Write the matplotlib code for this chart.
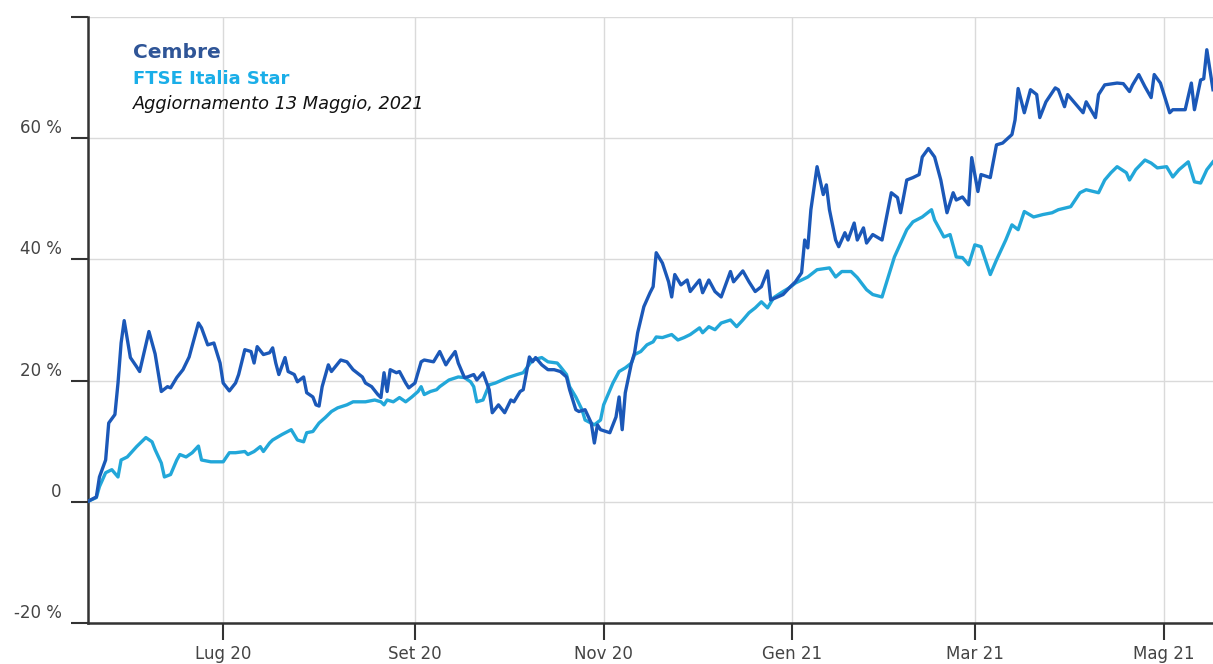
import pandas as pd
import matplotlib
matplotlib.use('Agg')
import matplotlib.pyplot as plt
import matplotlib.dates as mdates
import matplotlib.transforms as mtransforms
from matplotlib.ticker import FuncFormatter

# giorni dall'inizio (15 maggio 2020) e performance in %
start = pd.Timestamp('2020-05-15')

cembre_days = [
  3, 6, 7, 9, 10, 12, 13, 14, 15, 17,
  19, 20, 23, 25, 27, 29, 30, 32, 34, 36,
  39, 40, 42, 44, 46, 47, 49, 51, 52, 54,
  56, 57, 58, 60, 62, 63, 64, 65, 67, 68,
  70, 71, 73, 74, 76, 77, 78, 79, 81, 82,
  85, 87, 89, 92, 93, 95, 97, 98, 99, 100,
  101, 103, 104, 106, 107, 109, 111, 112, 115, 117,
  119, 120, 122, 123, 125, 126, 128, 129, 131, 133,
  134, 136, 138, 140, 141, 143, 144, 146, 147, 148,
  150, 152, 154, 156, 158, 159, 161, 162, 164, 166,
  167, 168, 169, 172, 174, 175, 176, 177, 179, 180,
  181, 183, 185, 186, 187, 189, 191, 192, 193, 195,
  197, 198, 201, 202, 204, 206, 208, 211, 212, 215,
  217, 219, 221, 223, 224, 228, 230, 232, 234, 235,
  236, 237, 239, 241, 242, 243, 245, 246, 248, 249,
  251, 252, 254, 255, 257, 260, 263, 265, 266, 268,
  270, 272, 273, 275, 277, 279, 281, 283, 284, 286,
  288, 289, 291, 292, 295, 297, 299, 302, 303, 304,
  306, 308, 310, 311, 313, 316, 317, 319, 320, 322,
  325, 326, 329, 330, 332, 336, 338, 340, 341, 343,
  345, 347, 348, 350, 353, 354, 358, 360, 361, 363,
  364, 365, 367]

cembre_pct = [
  0.0, 0.8, 4.1, 6.9, 13.0, 14.4, 19.6, 26.2, 29.9, 23.8,
  22.3, 21.5, 28.1, 24.4, 18.2, 19.0, 18.8, 20.5, 21.8, 23.9,
  29.5, 28.7, 25.9, 26.2, 22.9, 19.6, 18.3, 19.6, 21.0, 25.1,
  24.8, 22.9, 25.6, 24.3, 24.6, 25.4, 22.9, 21.0, 23.8, 21.5,
  21.0, 19.8, 20.6, 18.0, 17.3, 16.0, 15.8, 19.0, 22.6, 21.5,
  23.4, 23.1, 21.8, 20.6, 19.6, 19.0, 17.7, 17.2, 21.3, 18.2,
  21.8, 21.3, 21.5, 19.6, 18.8, 19.6, 23.1, 23.4, 23.1, 24.8,
  22.6, 23.4, 24.8, 22.9, 20.5, 20.6, 21.0, 20.1, 21.3, 18.5,
  14.7, 16.0, 14.7, 16.8, 16.5, 18.2, 18.5, 23.9, 23.1, 23.8,
  22.6, 21.8, 21.8, 21.5, 20.6, 18.5, 15.2, 14.9, 15.2, 13.0,
  9.7, 12.7, 11.9, 11.4, 14.0, 17.3, 11.9, 18.0, 22.9, 24.6,
  27.9, 32.2, 34.5, 35.5, 41.1, 39.4, 36.3, 33.8, 37.5, 35.8,
  36.6, 34.7, 36.6, 34.5, 36.6, 34.7, 33.8, 38.0, 36.3, 38.1,
  36.3, 34.7, 35.5, 38.1, 33.3, 34.2, 35.3, 36.3, 37.8, 43.2,
  41.9, 48.2, 55.3, 50.7, 52.3, 48.2, 43.2, 42.1, 44.4, 43.2,
  46.0, 43.2, 45.2, 42.7, 44.1, 43.2, 51.0, 50.2, 47.7, 53.1,
  53.5, 54.0, 56.9, 58.3, 56.9, 53.1, 47.7, 51.0, 49.8, 50.3,
  49.0, 56.8, 51.2, 54.0, 53.5, 58.9, 59.2, 60.6, 63.0, 68.2,
  64.2, 68.0, 67.2, 63.4, 66.0, 68.3, 68.0, 65.2, 67.2, 66.0,
  64.2, 66.0, 63.4, 67.2, 68.8, 69.1, 69.0, 67.7, 68.8, 70.5,
  68.5, 66.7, 70.5, 69.1, 64.2, 64.7, 64.7, 69.1, 64.7, 69.6,
  69.8, 74.6, 68.0]

ftse_days = [
  3, 6, 7, 9, 11, 13, 14, 16, 19, 22,
  24, 25, 27, 28, 30, 32, 33, 35, 37, 39,
  40, 43, 44, 47, 49, 51, 54, 55, 57, 59,
  60, 62, 63, 66, 69, 71, 73, 74, 76, 78,
  80, 82, 84, 87, 89, 92, 93, 96, 98, 99,
  100, 102, 104, 106, 108, 110, 111, 112, 114, 116,
  117, 120, 123, 125, 127, 128, 129, 131, 133, 135,
  139, 142, 144, 147, 150, 152, 155, 156, 158, 159,
  161, 163, 164, 167, 169, 170, 173, 175, 177, 179,
  180, 182, 184, 186, 187, 189, 192, 194, 196, 198,
  201, 202, 204, 206, 208, 211, 213, 215, 217, 219,
  221, 223, 225, 228, 230, 232, 236, 239, 243, 245,
  247, 250, 252, 255, 257, 260, 262, 264, 268, 270,
  273, 276, 277, 280, 282, 284, 286, 288, 290, 292,
  295, 297, 300, 302, 304, 306, 309, 312, 315, 317,
  321, 324, 326, 330, 332, 334, 336, 339, 340, 342,
  345, 347, 349, 352, 354, 356, 359, 361, 363, 365,
  367]

ftse_pct = [
  0.0, 0.7, 2.5, 4.8, 5.3, 4.1, 6.9, 7.4, 9.1, 10.6,
  9.9, 8.6, 6.4, 4.1, 4.5, 6.9, 7.8, 7.4, 8.1, 9.2,
  6.9, 6.6, 6.6, 6.6, 8.1, 8.1, 8.3, 7.8, 8.3, 9.1,
  8.3, 9.7, 10.2, 11.1, 11.9, 10.2, 9.9, 11.4, 11.6, 13.0,
  13.9, 14.9, 15.5, 16.0, 16.5, 16.5, 16.5, 16.8, 16.5, 16.0,
  16.8, 16.5, 17.2, 16.5, 17.3, 18.2, 19.0, 17.7, 18.2, 18.5,
  19.0, 20.1, 20.6, 20.5, 19.8, 19.0, 16.5, 16.8, 19.3, 19.6,
  20.5, 21.0, 21.3, 23.4, 23.8, 23.1, 22.9, 22.3, 21.0, 19.0,
  17.3, 15.2, 13.5, 12.7, 13.5, 16.0, 19.6, 21.5, 22.1, 22.9,
  24.3, 24.8, 25.9, 26.4, 27.2, 27.1, 27.6, 26.7, 27.1, 27.6,
  28.7, 27.9, 28.9, 28.4, 29.5, 30.0, 28.9, 30.0, 31.2, 32.0,
  33.0, 32.0, 33.7, 34.7, 35.3, 36.1, 37.1, 38.3, 38.6, 37.1,
  38.0, 38.0, 37.0, 35.0, 34.2, 33.8, 37.1, 40.4, 44.9, 46.2,
  47.0, 48.2, 46.5, 43.7, 44.1, 40.4, 40.3, 39.1, 42.4, 42.1,
  37.5, 39.9, 43.2, 45.7, 44.9, 47.9, 47.0, 47.4, 47.7, 48.2,
  48.7, 51.0, 51.5, 51.0, 53.1, 54.3, 55.3, 54.3, 53.1, 54.8,
  56.4, 55.9, 55.1, 55.3, 53.6, 54.8, 56.1, 52.8, 52.6, 54.8,
  56.1]

mesi = ['Gen', 'Feb', 'Mar', 'Apr', 'Mag', 'Giu', 'Lug', 'Ago', 'Set', 'Ott', 'Nov', 'Dic']
y_ticks = [-20, 0, 20, 40, 60, 80]

cembre_dates = start + pd.to_timedelta(cembre_days, unit='D')
ftse_dates = start + pd.to_timedelta(ftse_days, unit='D')

W, H = 1213, 664
fig = plt.figure(figsize=(W / 100, H / 100), dpi=100)
ax = fig.add_axes([88 / W, 41 / H, (W - 88) / W, 606 / H])

ax.plot(ftse_dates, ftse_pct, color='#22a7d9', lw=2.4, zorder=3)
ax.plot(cembre_dates, cembre_pct, color='#1b58b8', lw=2.4, zorder=4)

ax.set_xlim(start + pd.Timedelta(days=3.3), start + pd.Timedelta(days=367))
ax.set_ylim(-20, 80)
ax.set_yticks(y_ticks)

def ylab(v, pos):
  if v == 0:
    return '0'
  if v >= 80:
    return ''
  return '{:.0f} %'.format(v)

def xlab(v, pos):
  d = mdates.num2date(v)
  return mesi[d.month - 1] + ' ' + d.strftime('%y')

ax.yaxis.set_major_formatter(FuncFormatter(ylab))
ax.xaxis.set_major_locator(mdates.MonthLocator(bymonth=[1, 3, 5, 7, 9, 11]))
ax.xaxis.set_major_formatter(FuncFormatter(xlab))

ax.grid(True, color='#dadada', lw=1, zorder=0)
for s in ['top', 'right']:
  ax.spines[s].set_visible(False)
for s in ['left', 'bottom']:
  ax.spines[s].set_color('#333333')
  ax.spines[s].set_linewidth(1.8)

ax.tick_params(direction='out', length=12, width=1.5, color='#333333',
               labelsize=12, labelcolor='#444444')
ax.tick_params(axis='x', pad=4, labelsize=12)
ax.tick_params(axis='y', pad=7)

# etichette y spostate sopra la tacca
shift = mtransforms.ScaledTranslation(0, 0.12, fig.dpi_scale_trans)
for lbl in ax.get_yticklabels():
  lbl.set_transform(lbl.get_transform() + shift)

fig.text(133 / W, 1 - 52 / H, 'Cembre', fontsize=14.5, fontweight='bold',
         color='#2f5597', va='center')
fig.text(133 / W, 1 - 79 / H, 'FTSE Italia Star', fontsize=13, fontweight='bold',
         color='#1aaee8', va='center')
fig.text(133 / W, 1 - 104 / H, 'Aggiornamento 13 Maggio, 2021', fontsize=12.8,
         fontstyle='italic', color='#111111', va='center')

fig.savefig('out.png', dpi=100)
